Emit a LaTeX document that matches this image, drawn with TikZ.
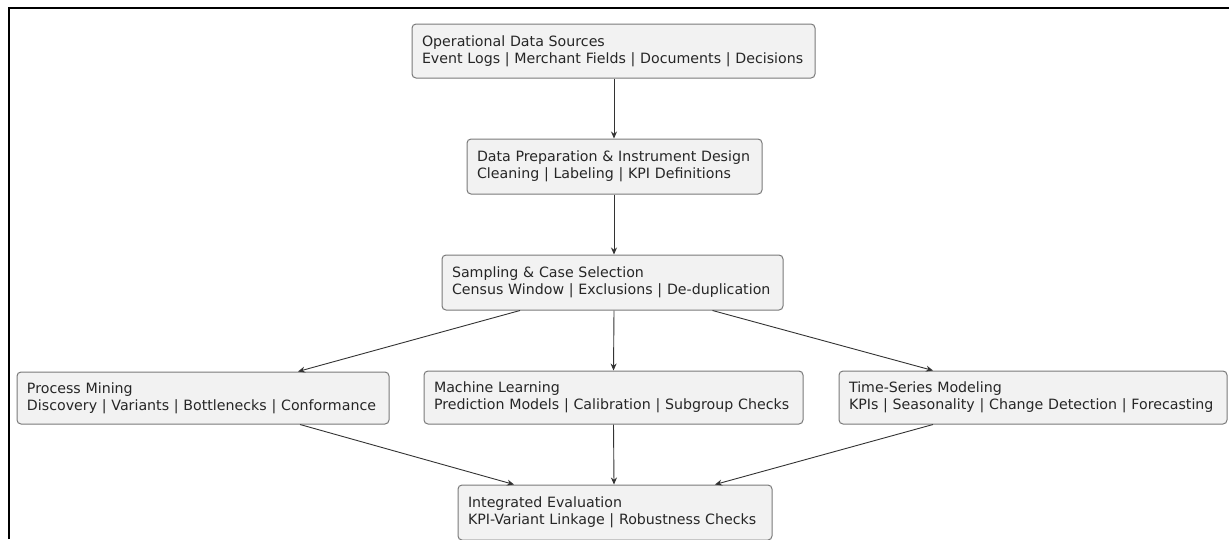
\documentclass[tikz,border=0pt]{standalone}
\usepackage{fontspec}
\setmainfont{DejaVu Sans}
\usetikzlibrary{arrows.meta}
\definecolor{boxfill}{HTML}{F2F2F2}
\definecolor{boxline}{HTML}{7A7A7A}
\definecolor{ink}{HTML}{262626}
\definecolor{wire}{HTML}{333333}
\tikzset{
  stage/.style={draw=boxline, fill=boxfill, rounded corners=4pt, line width=1pt,
    text=ink, align=left, inner xsep=10pt, inner ysep=0pt, anchor=center,
    font=\fontsize{14.2}{17}\selectfont},
  flow/.style={draw=wire, line width=0.9pt, -{Stealth[length=7pt,width=6pt]}}
}
% name, x, y, width, height, title line, detail line
\newcommand{\stagebox}[7]{%
  \node[stage, text width=#4pt-20pt, minimum height=#5pt] (#1) at (#2,#3)
    {\mbox{#6}\\\mbox{#7}};}
\begin{document}
\begin{tikzpicture}[x=1pt,y=-1pt]
\useasboundingbox (0,0) rectangle (1229,539);
\fill[white] (0,0) rectangle (1229,539);
% outer frame (top and left edges)
\draw[black, line width=1.6pt] (9,539) -- (9,8) -- (1229,8);

\stagebox{src}{613.5}{51}{403}{54}{Operational Data Sources}{Event Logs | Merchant Fields | Documents | Decisions}
\stagebox{prep}{614.5}{166.5}{295}{55}{Data Preparation \& Instrument Design}{Cleaning | Labeling | KPI Definitions}
\stagebox{samp}{612.5}{282.5}{341}{55}{Sampling \& Case Selection}{Census Window | Exclusions | De-duplication}
\stagebox{pm}{203}{398}{372}{52}{Process Mining}{Discovery | Variants | Bottlenecks | Conformance}
\stagebox{ml}{613.5}{397.5}{379}{53}{Machine Learning}{Prediction Models | Calibration | Subgroup Checks}
\stagebox{ts}{1033}{397.5}{388}{53}{Time-Series Modeling}{KPIs | Seasonality | Change Detection | Forecasting}
\stagebox{eval}{615}{512.5}{314}{55}{Integrated Evaluation}{KPI-Variant Linkage | Robustness Checks}

\draw[flow] ([xshift=0.5pt]src.south) -- ([xshift=-0.5pt]prep.north);
\draw[flow] ([xshift=-0.5pt]prep.south) -- ([xshift=1.5pt]samp.north);
\draw[flow] ([xshift=-92.5pt]samp.south) -- ([xshift=95pt]pm.north);
\draw[flow] ([xshift=1.5pt]samp.south) -- (ml.north);
\draw[flow] ([xshift=100pt]samp.south) -- ([xshift=-100pt]ts.north);
\draw[flow] ([xshift=97pt]pm.south) -- ([xshift=-101pt]eval.north);
\draw[flow] (ml.south) -- ([xshift=-1pt]eval.north);
\draw[flow] ([xshift=-100pt]ts.south) -- ([xshift=100pt]eval.north);
\end{tikzpicture}
\end{document}
